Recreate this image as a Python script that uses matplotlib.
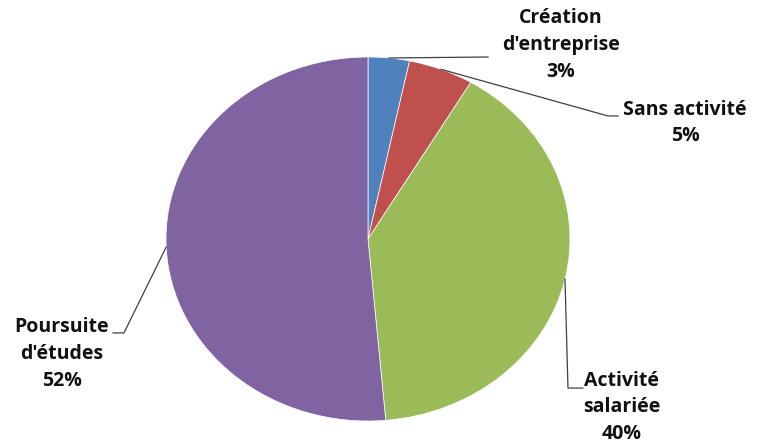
import numpy as np
import matplotlib.pyplot as plt

plt.rcParams['font.family'] = ['Open Sans', 'DejaVu Sans']

# ---- data ----
categories = ["Création\nd'entreprise", "Sans activité", "Activité\nsalariée", "Poursuite\nd'études"]
shares = [3.3, 5.2, 40.1, 51.4]
pct_labels = ["3%", "5%", "40%", "52%"]
colors = ['#4F81BD', '#C0504D', '#9BBB59', '#8064A2']

# label centre and leader elbows (pie radius = 1, axes units)
label_pos = [(0.955, 1.066), (1.569, 0.637), (1.257, -0.925), (-1.515, -0.632)]
leader_pts = [
    [(0.594, 1.0)],
    [(1.188, 0.676), (1.238, 0.676)],
    [(0.990, -0.819), (1.064, -0.819)],
    [(-1.208, -0.516), (-1.262, -0.516)],
]

W, H = 760, 446
cx, cy, rx, ry = 368, 239, 202, 182

fig = plt.figure(figsize=(W / 100, H / 100), dpi=100)
ax = fig.add_axes([0, 0, 1, 1])

wedges, _ = ax.pie(shares, colors=colors, startangle=90, counterclock=False,
                   radius=1.0, wedgeprops=dict(linewidth=0.5, edgecolor='#ffffff'))

# stretched ellipse like the original
ax.set_aspect('auto')
ax.set_xlim((0 - cx) / rx, (W - cx) / rx)
ax.set_ylim((cy - H) / ry, cy / ry)
ax.axis('off')

cum = np.cumsum([0] + shares)
for i, w in enumerate(wedges):
    mid = (cum[i] + cum[i + 1]) / 2 / 100 * 2 * np.pi
    pts = [(np.sin(mid), np.cos(mid))] + leader_pts[i]
    xs, ys = zip(*pts)
    ax.plot(xs, ys, color='#404040', linewidth=0.9)
    lx, ly = label_pos[i]
    ax.text(lx, ly, categories[i] + '\n' + pct_labels[i], ha='center', va='center',
            fontsize=14, fontweight='bold', color='#111111', linespacing=1.45)

fig.savefig('out.png', dpi=100)
